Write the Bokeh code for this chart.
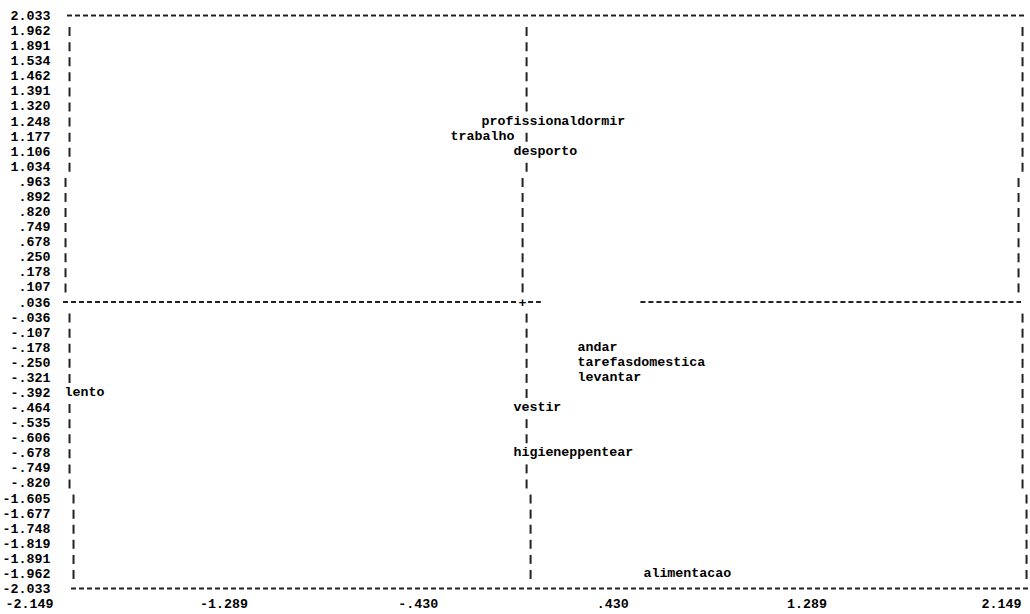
import math
from bokeh.plotting import figure
from bokeh.models import Range1d, LinearAxis, FixedTicker, ColumnDataSource
from bokeh.core.properties import value
from bokeh.embed import file_html
from bokeh.resources import INLINE

# ---------------- data ----------------
row_labels = ["2.033", "1.962", "1.891", "1.534", "1.462", "1.391", "1.320",
              "1.248", "1.177", "1.106", "1.034", ".963", ".892", ".820",
              ".749", ".678", ".250", ".178", ".107", ".036", "-.036",
              "-.107", "-.178", "-.250", "-.321", "-.392", "-.464", "-.535",
              "-.606", "-.678", "-.749", "-.820", "-1.605", "-1.677",
              "-1.748", "-1.819", "-1.891", "-1.962", "-2.033"]
x_tick_values = [-2.149, -1.289, -0.430, 0.430, 1.289, 2.149]
x_tick_labels = ["-2.149", "-1.289", "-.430", ".430", "1.289", "2.149"]

words = ["profissionaldormir", "trabalho", "desporto", "andar",
         "tarefasdomestica", "levantar", "lento", "vestir",
         "higieneppentear", "alimentacao"]
word_rows = ["1.248", "1.177", "1.106", "-.178", "-.250", "-.321", "-.392",
             "-.464", "-.678", "-1.962"]
word_x = [-0.150, -0.287, -0.009, 0.274, 0.274, 0.274, -1.994, -0.009,
          -0.009, 0.548]

# frame lines of the character plot (x positions)
box_left = -1.972
box_right = 2.242
zero_line = 0.049
middle_gap = (0.130, 0.570)

# ---------------- layout / style ----------------
W, H = 1030, 614
X0, X1 = -2.2772, 2.2772
SCALE = W / (X1 - X0)            # px per x unit
ROW_TOP, PITCH = 15.0, 15.08
FONT = value("Liberation Mono")
FSIZE = "13.3px"
CHAR_W = 7.98
INK = "#000000"
LINE_INK = "#222222"

def shift_px(label):
    return 4.0 * (len(label) - 5)

def dx(label):
    return shift_px(label) / SCALE

row_index = {lbl: i for i, lbl in enumerate(row_labels)}
n_rows = len(row_labels)

p = figure(width=W, height=H, x_range=Range1d(X0, X1),
           y_range=Range1d((H - ROW_TOP) / PITCH, -ROW_TOP / PITCH),
           x_axis_type=None, y_axis_type=None, toolbar_location=None,
           output_backend="svg", min_border=0, min_border_left=0,
           min_border_right=0, min_border_top=0, min_border_bottom=0,
           outline_line_color=None, background_fill_color="white",
           border_fill_color="white")

# ---- axes (fixed inside the canvas, like the text plot) ----
yaxis = LinearAxis(fixed_location=-2.043,
                   ticker=FixedTicker(ticks=list(range(n_rows))),
                   major_label_overrides={i: l for i, l in enumerate(row_labels)})
xaxis = LinearAxis(fixed_location=n_rows - 1,
                   ticker=FixedTicker(ticks=x_tick_values),
                   major_label_overrides={v: l for v, l in zip(x_tick_values, x_tick_labels)})
for ax in (yaxis, xaxis):
    ax.axis_line_color = None
    ax.major_tick_line_color = None
    ax.minor_tick_line_color = None
    ax.major_tick_in = 0
    ax.major_tick_out = 0
    ax.major_label_text_font = "Liberation Mono"
    ax.major_label_text_font_style = "bold"
    ax.major_label_text_font_size = FSIZE
    ax.major_label_text_color = INK
yaxis.major_label_standoff = 3
xaxis.major_label_standoff = 10
p.add_layout(yaxis, "left")
p.add_layout(xaxis, "below")

# ---- horizontal dashed lines (top, middle, bottom rows) ----
half_dash = 2.5 / SCALE
seg = dict(x0=[], x1=[], y=[])
def add_seg(a, b, r):
    seg["x0"].append(a); seg["x1"].append(b); seg["y"].append(r)

top_l, bot_l = row_labels[0], row_labels[-1]
mid_r = row_index[".036"]
mid_l = row_labels[mid_r]
add_seg(box_left + dx(top_l) - half_dash, box_right + dx(top_l) + half_dash, 0)
add_seg(box_left + dx(bot_l) - half_dash, box_right + dx(bot_l) + half_dash, n_rows - 1)
add_seg(box_left + dx(mid_l) - half_dash, zero_line + dx(mid_l) - 5.5 / SCALE, mid_r)
add_seg(zero_line + dx(mid_l) + 5.5 / SCALE, middle_gap[0] + dx(mid_l), mid_r)
add_seg(middle_gap[1] + dx(mid_l), box_right + dx(mid_l) + half_dash, mid_r)
p.segment(x0="x0", y0="y", x1="x1", y1="y", source=ColumnDataSource(seg),
          line_color=LINE_INK, line_width=2, line_dash="5 3")

p.text(x=[zero_line], y=[mid_r], text=["+"], x_offset=[shift_px(mid_l)],
       text_font=FONT, text_font_style="bold", text_font_size=FSIZE,
       text_color=INK, text_align="center", text_baseline="middle")

# ---- vertical bars "|" on each row ----
word_spans = []
for w, r, x in zip(words, word_rows, word_x):
    s = x * SCALE
    word_spans.append((row_index[r], s - 4, s + len(w) * CHAR_W + CHAR_W + 4))

bars = dict(x=[], y=[])
for r in range(1, n_rows - 1):
    if r == mid_r:
        continue
    for bx in (box_left, zero_line, box_right):
        bpx = bx * SCALE
        if any(rr == r and a <= bpx <= b for rr, a, b in word_spans):
            continue
        bars["x"].append(bx + dx(row_labels[r]))
        bars["y"].append(r + 1.0 / PITCH)
p.scatter(x="x", y="y", source=ColumnDataSource(bars), marker="dash",
          size=9, angle=math.pi / 2, line_color=LINE_INK, line_width=2)

# ---- point labels ----
wsrc = ColumnDataSource(dict(x=word_x, y=[row_index[r] for r in word_rows],
                             t=words, off=[shift_px(r) for r in word_rows]))
p.text(x="x", y="y", text="t", x_offset="off", source=wsrc,
       text_font=FONT, text_font_style="bold", text_font_size=FSIZE,
       text_color=INK, text_align="left", text_baseline="middle")

open("out.html", "w").write(file_html(p, INLINE))
